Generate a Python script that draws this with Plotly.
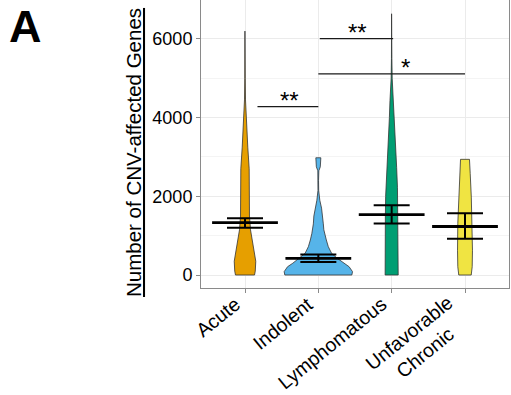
import plotly.graph_objects as go

# ---------------- data ----------------
categories = ["Acute", "Indolent", "Lymphomatous", "Unfavorable<br>Chronic"]
colors = ["#E69F00", "#56B4E9", "#009E73", "#F0E442"]

# violin density profiles: value levels and half-widths (category units)
acute_y = [0, 100, 350, 650, 900, 1150, 1500, 2000, 2700, 3250, 3750, 4100, 4450, 5000, 6200]
acute_w = [0.130, 0.140, 0.147, 0.123, 0.095, 0.075, 0.061, 0.057, 0.057, 0.038, 0.025, 0.014, 0.007, 0.003, 0.001]

indolent_y = [0, 85, 210, 300, 420, 550, 720, 890, 1050, 1150, 1300, 1500, 1700, 1900, 2150, 2400, 2650, 2750, 2900, 2980]
indolent_w = [0.457, 0.466, 0.420, 0.348, 0.262, 0.181, 0.136, 0.109, 0.089, 0.075, 0.068, 0.061, 0.044, 0.020, 0.005, 0.003, 0.007, 0.027, 0.034, 0.034]

lympho_y = [0, 210, 700, 1060, 1500, 2000, 2230, 2730, 3200, 3590, 4000, 4430, 4800, 5000, 5500, 6640]
lympho_w = [0.089, 0.089, 0.089, 0.089, 0.086, 0.082, 0.079, 0.068, 0.055, 0.041, 0.031, 0.023, 0.014, 0.007, 0.003, 0.001]

unfav_y = [0, 210, 630, 1310, 1980, 2580, 2940]
unfav_w = [0.085, 0.098, 0.102, 0.098, 0.086, 0.071, 0.061]

profiles_y = [acute_y, indolent_y, lympho_y, unfav_y]
profiles_w = [acute_w, indolent_w, lympho_w, unfav_w]

# mean and standard error bounds
means = [1330, 422, 1537, 1233]
lower = [1200, 330, 1308, 919]
upper = [1445, 524, 1772, 1570]

# significance brackets
br_start = [1.17, 2.02, 2.0]
br_end = [2.0, 3.02, 4.0]
br_y = [4280, 6010, 5114]
br_label = ["**", "**", "*"]
br_label_x = [1.6, 2.53, 3.19]

y_ticks = [0, 2000, 4000, 6000]

# ---------------- figure ----------------
fig = go.Figure()
positions = list(range(1, len(categories) + 1))

for pos, ys, ws, col in zip(positions, profiles_y, profiles_w, colors):
    xs = [pos + w for w in ws] + [pos - w for w in reversed(ws)] + [pos + ws[0]]
    yy = list(ys) + list(reversed(ys)) + [ys[0]]
    fig.add_trace(go.Scatter(x=xs, y=yy, mode="lines", fill="toself", fillcolor=col,
                             line=dict(color="#333333", width=0.8), hoverinfo="skip",
                             showlegend=False))

fig.add_trace(go.Scatter(
    x=positions, y=means, mode="markers",
    marker=dict(symbol="line-ew", size=47, line=dict(color="black", width=2.8)),
    error_y=dict(type="data", symmetric=False,
                 array=[u - m for u, m in zip(upper, means)],
                 arrayminus=[m - l for m, l in zip(means, lower)],
                 width=18, thickness=2, color="black"),
    showlegend=False))

for x0, x1, yb, lab, lx in zip(br_start, br_end, br_y, br_label, br_label_x):
    fig.add_trace(go.Scatter(x=[x0, x1], y=[yb, yb], mode="lines",
                             line=dict(color="#1a1a1a", width=1.3), showlegend=False,
                             hoverinfo="skip"))
    fig.add_annotation(x=lx, y=yb, xref="x", yref="y", text=lab, showarrow=False,
                       yanchor="bottom", yshift=-9,
                       font=dict(family="Liberation Sans", size=24, color="black"))

# category labels (rotated, centred lines as in the original)
for pos, cat in zip(positions, categories):
    multiline = "<br>" in cat
    fig.add_annotation(x=pos, y=0, xref="x", yref="paper", text=cat, showarrow=False,
                       textangle=-39, xanchor="right", yanchor="top", align="center",
                       xshift=10 if multiline else 2, yshift=0 if multiline else -2,
                       font=dict(family="Liberation Sans", size=19.5, color="black"))

fig.add_annotation(x=-0.2208, y=0.4722, xref="paper", yref="paper",
                   text="<u>Number of CNV-affected Genes</u>", textangle=-90,
                   showarrow=False, xanchor="center", yanchor="middle",
                   font=dict(family="Liberation Sans", size=20.5, color="black"))
fig.add_annotation(x=-0.5714, y=0.9097, xref="paper", yref="paper",
                   text="<b>A</b>", showarrow=False, xanchor="center", yanchor="middle",
                   font=dict(family="Liberation Sans", size=45, color="black"))

fig.update_layout(
    width=511, height=395,
    margin=dict(l=201, r=2, t=0, b=107),
    paper_bgcolor="white", plot_bgcolor="white",
    showlegend=False,
    font=dict(family="Liberation Sans", color="black"),
)
fig.update_xaxes(
    range=[0.4, 4.6], tickmode="array", tickvals=positions, ticktext=categories,
    showticklabels=False,
    showgrid=True, gridcolor="#ebebeb", gridwidth=1,
    showline=True, linecolor="#8a8a8a", linewidth=1, mirror=False,
    ticks="outside", ticklen=4, tickcolor="#8a8a8a", zeroline=False,
)
fig.update_yaxes(
    range=[-330, 6990], tickmode="array", tickvals=y_ticks,
    tickfont=dict(size=18, color="black"),
    showgrid=True, gridcolor="#ebebeb", gridwidth=1,
    minor=dict(dtick=1000, tick0=0, showgrid=True, gridcolor="#f4f4f4", gridwidth=0.6),
    showline=True, linecolor="#8a8a8a", linewidth=1, mirror=True,
    ticks="outside", ticklen=4, tickcolor="#8a8a8a", zeroline=False,
)

fig.write_html("out.html")
